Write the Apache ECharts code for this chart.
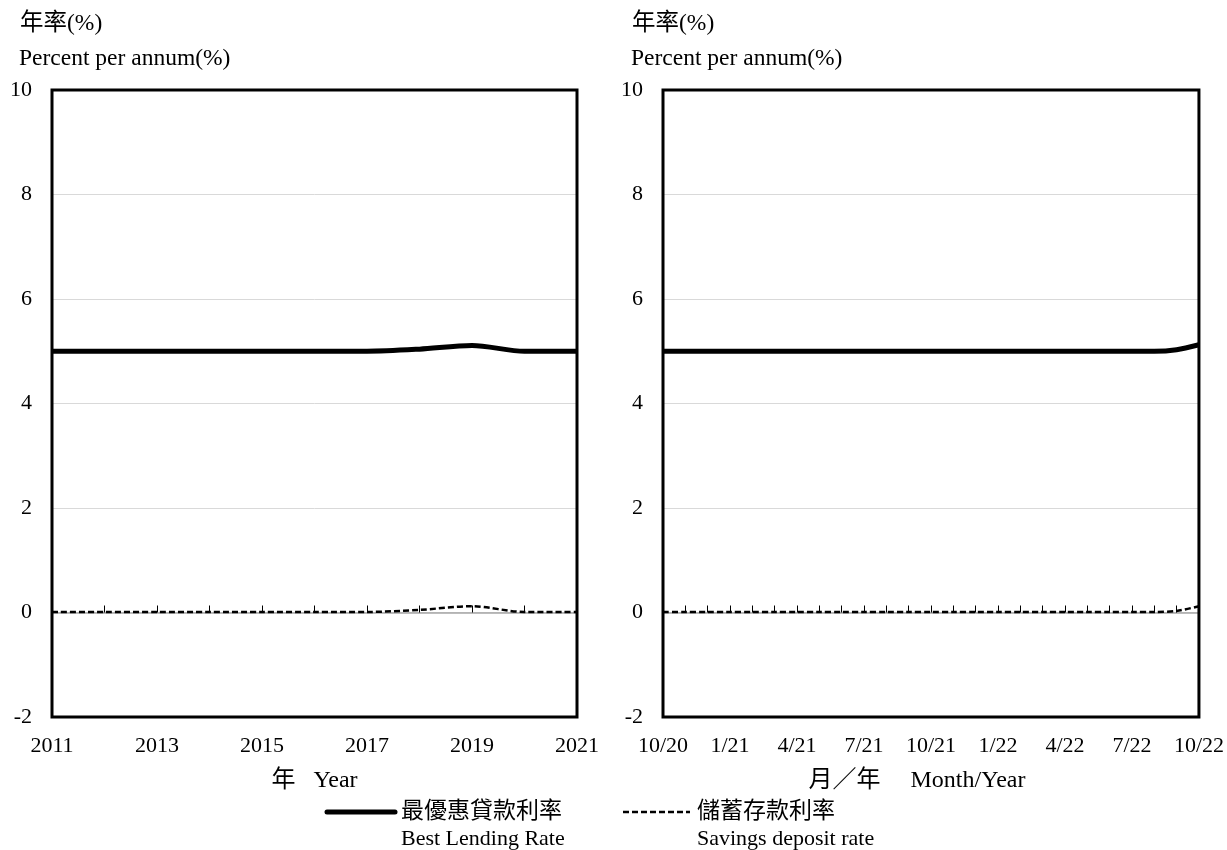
<!DOCTYPE html>
<html>
<head>
<meta charset="utf-8">
<script src="https://cdn.jsdelivr.net/npm/echarts@6/dist/echarts.min.js"></script>
<style>
html,body{margin:0;padding:0;background:#fff;}
#chart{width:1227px;height:850px;}
</style>
</head>
<body>
<div id="chart"></div>
<script>
// ---- Data ----
const years = ['2011','2012','2013','2014','2015','2016','2017','2018','2019','2020','2021'];
const blrAnnual = [5, 5, 5, 5, 5, 5, 5, 5.04, 5.11, 5, 5];
const savAnnual = [0.01, 0.01, 0.01, 0.01, 0.01, 0.01, 0.01, 0.05, 0.12, 0.01, 0.01];

const months = ['10/20','11/20','12/20','1/21','2/21','3/21','4/21','5/21','6/21','7/21','8/21','9/21',
                '10/21','11/21','12/21','1/22','2/22','3/22','4/22','5/22','6/22','7/22','8/22','9/22','10/22'];
const blrMonthly = [5,5,5,5,5,5,5,5,5,5,5,5,5,5,5,5,5,5,5,5,5,5,5,5.03,5.125];
const savMonthly = [0.01,0.01,0.01,0.01,0.01,0.01,0.01,0.01,0.01,0.01,0.01,0.01,0.01,0.01,0.01,0.01,0.01,0.01,0.01,0.01,0.01,0.01,0.01,0.03,0.12];

const yTicks = {min: -2, max: 10, interval: 2};
const yTitleCn = '年率(%)';
const yTitleEn = 'Percent per annum(%)';
const xTitleLeft = '年   Year';
const xTitleRight = '月／年　 Month/Year';
const legendNames = [['最優惠貸款利率','Best Lending Rate'],['儲蓄存款利率','Savings deposit rate']];

// ---- Chart ----
const FONT = "'Liberation Serif', 'Noto Sans CJK TC', serif";
const FS = 22;
const chart = echarts.init(document.getElementById('chart'));

function gridDef(left, width){
  return {left: left, top: 90, width: width, height: 627, show: true, z: 10,
          borderColor: '#000', borderWidth: 3, backgroundColor: 'transparent', containLabel: false};
}
function zeroAxis(gi, cats){
  return {type: 'category', gridIndex: gi, data: cats, boundaryGap: false,
          axisLine: {onZero: true, lineStyle: {color: '#a6a6a6', width: 1.5}},
          axisTick: {show: true, inside: true, length: 7, interval: 0, lineStyle: {color: '#000', width: 1}},
          axisLabel: {show: false}, splitLine: {show: false}};
}
function labelAxis(gi, cats, interval, name, pad){
  return {type: 'category', gridIndex: gi, data: cats, boundaryGap: false, position: 'bottom',
          axisLine: {show: false, onZero: false}, axisTick: {show: false},
          axisLabel: {interval: interval, margin: 18, color: '#000', fontFamily: FONT, fontSize: FS},
          name: name, nameLocation: 'middle', nameGap: 52,
          nameTextStyle: {color: '#000', fontFamily: FONT, fontSize: 24, padding: pad},
          splitLine: {show: false}};
}
function yAxisDef(gi){
  return {type: 'value', gridIndex: gi, min: yTicks.min, max: yTicks.max, interval: yTicks.interval,
          axisLine: {show: false}, axisTick: {show: false},
          axisLabel: {margin: 20, color: '#000', fontFamily: FONT, fontSize: FS},
          splitLine: {show: true, lineStyle: {color: '#d9d9d9', width: 1}}};
}
function blrSeries(xi, yi, data, name){
  return {type: 'line', name: name, xAxisIndex: xi, yAxisIndex: yi, data: data, smooth: 0.3,
          showSymbol: false, lineStyle: {color: '#000', width: 5}, z: 5};
}
function savSeries(xi, yi, data, name){
  return {type: 'line', name: name, xAxisIndex: xi, yAxisIndex: yi, data: data, smooth: 0.3,
          showSymbol: false, lineStyle: {color: '#000', width: 2.5, type: [6, 3]}, z: 5};
}

const txt = (x, y, t, fs) => ({type: 'text', left: x, top: y,
  style: {text: t, fill: '#000', font: fs + 'px ' + FONT}});

chart.setOption({
  backgroundColor: '#fff',
  animation: false,
  grid: [gridDef(52, 525), gridDef(663, 536)],
  xAxis: [zeroAxis(0, years), labelAxis(0, years, 1, xTitleLeft, [0,0,0,0]),
          zeroAxis(1, months), labelAxis(1, months, 2, xTitleRight, [0,28,0,0])],
  yAxis: [yAxisDef(0), yAxisDef(1)],
  series: [
    blrSeries(0, 0, blrAnnual, legendNames[0][1]),
    savSeries(0, 0, savAnnual, legendNames[1][1]),
    blrSeries(2, 1, blrMonthly, legendNames[0][1]),
    savSeries(2, 1, savMonthly, legendNames[1][1])
  ],
  graphic: [
    txt(20, 12, yTitleCn, 23.5),
    txt(19, 47, yTitleEn, 23.5),
    txt(632, 12, yTitleCn, 23.5),
    txt(631, 47, yTitleEn, 23.5),
    {type: 'line', shape: {x1: 327, y1: 812, x2: 395, y2: 812}, style: {stroke: '#000', lineWidth: 5, lineCap: 'round'}},
    txt(401, 800, legendNames[0][0], 23),
    txt(401, 828, legendNames[0][1], 22),
    {type: 'line', shape: {x1: 623, y1: 812, x2: 690, y2: 812}, style: {stroke: '#000', lineWidth: 2.5, lineDash: [6, 3]}},
    txt(697, 800, legendNames[1][0], 23),
    txt(697, 828, legendNames[1][1], 22)
  ]
});
</script>
</body>
</html>
